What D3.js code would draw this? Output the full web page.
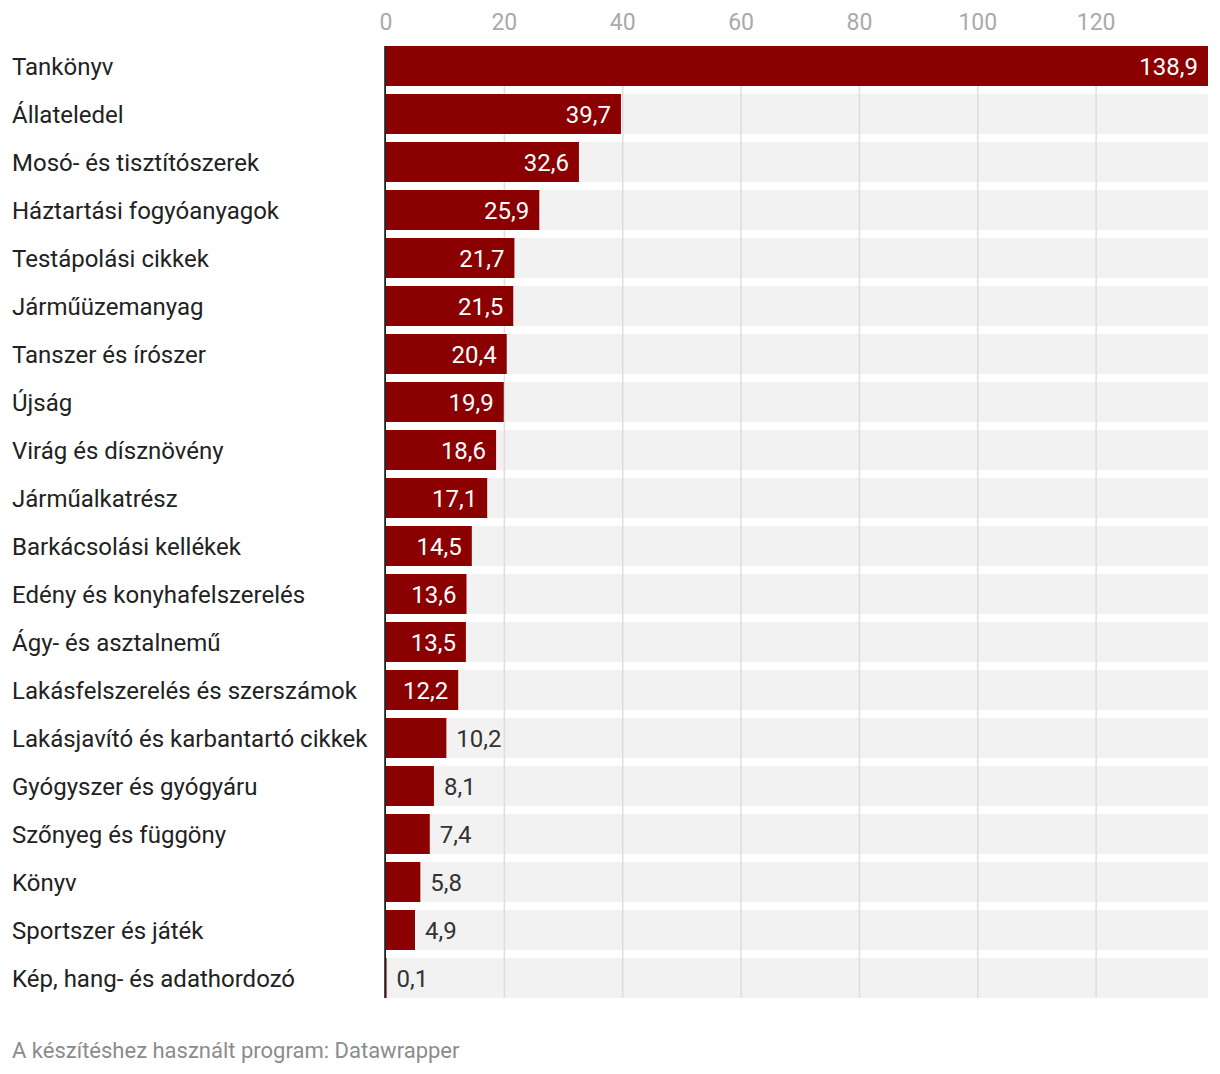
<!DOCTYPE html>
<html>
<head>
<meta charset="utf-8">
<script src="https://cdn.jsdelivr.net/npm/d3@7"></script>
<style>
  body { margin: 0; background: #fff; }
  svg text { font-family: Roboto, "Noto Sans", sans-serif; }
</style>
</head>
<body>
<div id="chart"></div>
<script>
const categories = [
    'Tankönyv', 'Állateledel', 'Mosó- és tisztítószerek', 'Háztartási fogyóanyagok',
    'Testápolási cikkek', 'Járműüzemanyag', 'Tanszer és írószer', 'Újság',
    'Virág és dísznövény', 'Járműalkatrész', 'Barkácsolási kellékek',
    'Edény és konyhafelszerelés', 'Ágy- és asztalnemű', 'Lakásfelszerelés és szerszámok',
    'Lakásjavító és karbantartó cikkek', 'Gyógyszer és gyógyáru', 'Szőnyeg és függöny',
    'Könyv', 'Sportszer és játék', 'Kép, hang- és adathordozó'
];
const values = [138.9, 39.7, 32.6, 25.9, 21.7, 21.5, 20.4, 19.9, 18.6, 17.1,
    14.5, 13.6, 13.5, 12.2, 10.2, 8.1, 7.4, 5.8, 4.9, 0.1];
const ticks = [0, 20, 40, 60, 80, 100, 120];
const footer = 'A készítéshez használt program: Datawrapper';

const width = 1220, height = 1074;
const plotLeft = 386, plotRight = 1208, plotTop = 42;
const rowStep = 48;

const svg = d3.select('#chart').append('svg')
    .attr('width', width)
    .attr('height', height);

const x = d3.scaleLinear().domain([0, 138.9]).range([plotLeft, plotRight]);
const y = d3.scaleBand().domain(categories)
    .range([plotTop, plotTop + rowStep * categories.length])
    .paddingInner(1 / 6)
    .paddingOuter(1 / 12);

const yStart = y(categories[0]);
const yEnd = y(categories[categories.length - 1]) + y.bandwidth();
const fmt = v => v.toFixed(1).replace('.', ',');

// background rows
svg.selectAll('.bg').data(categories).enter().append('rect')
    .attr('x', plotLeft)
    .attr('y', d => y(d))
    .attr('width', plotRight - plotLeft)
    .attr('height', y.bandwidth())
    .attr('fill', '#f2f2f2');

// grid
svg.selectAll('.grid').data(ticks.slice(1)).enter().append('line')
    .attr('x1', d => x(d)).attr('x2', d => x(d))
    .attr('y1', yStart).attr('y2', yEnd)
    .attr('stroke', '#dddddd')
    .attr('stroke-width', 1.5);

// tick labels
svg.selectAll('.tick').data(ticks).enter().append('text')
    .attr('x', d => x(d))
    .attr('y', 30)
    .attr('text-anchor', 'middle')
    .attr('fill', '#aaaaaa')
    .style('font-size', '23px')
    .text(d => d);

// bars
svg.selectAll('.bar').data(values).enter().append('rect')
    .attr('x', plotLeft)
    .attr('y', (d, i) => y(categories[i]))
    .attr('width', d => x(d) - plotLeft)
    .attr('height', y.bandwidth())
    .attr('fill', '#8b0000');

// zero line (sits just left of the bars)
svg.append('line')
    .attr('x1', plotLeft - 0.9).attr('x2', plotLeft - 0.9)
    .attr('y1', yStart).attr('y2', yEnd)
    .attr('stroke', '#222')
    .attr('stroke-width', 1.8);

// category labels
svg.selectAll('.cat').data(categories).enter().append('text')
    .attr('x', 12)
    .attr('y', d => y(d) + y.bandwidth() / 2 + 9)
    .attr('fill', '#222')
    .style('font-size', '24px')
    .text(d => d);

// value labels: inside the bar when there is room, else to the right
svg.selectAll('.val').data(values).enter().append('text')
    .attr('y', (d, i) => y(categories[i]) + y.bandwidth() / 2 + 9)
    .style('font-size', '24px')
    .text(d => fmt(d))
    .each(function(d){
        let el = d3.select(this);
        let w = this.getComputedTextLength();
        let bw = x(d) - plotLeft;
        if(w + 20 <= bw){
            el.attr('x', x(d) - 10).attr('text-anchor', 'end').attr('fill', '#ffffff');
        }else{
            el.attr('x', x(d) + 10).attr('text-anchor', 'start').attr('fill', '#333333');
        }
    });

// footer
svg.append('text')
    .attr('x', 12)
    .attr('y', 1058)
    .attr('fill', '#8c8c8c')
    .style('font-size', '22px')
    .text(footer);
</script>
</body>
</html>
